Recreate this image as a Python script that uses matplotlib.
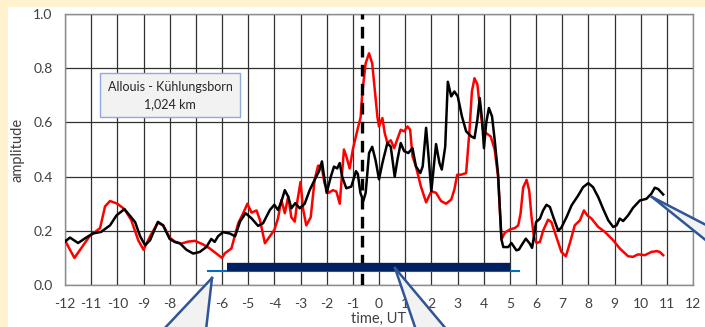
import matplotlib
matplotlib.use("Agg")
import matplotlib.pyplot as plt
from matplotlib.patches import Rectangle, Polygon

# time axis (UT) and amplitudes
red_t = [-12.0, -11.81, -11.64, -11.06, -10.79, -10.66, -10.47, -10.28, -10.0, -9.73,
         -9.47, -9.2, -9.0, -8.75, -8.45, -8.25, -8.0, -7.8, -7.55, -7.3,
         -7.04, -6.73, -6.47, -6.2, -6.0, -5.89, -5.64, -5.38, -5.19, -5.03,
         -4.87, -4.68, -4.55, -4.36, -4.17, -4.0, -3.86, -3.73, -3.6, -3.47,
         -3.35, -3.22, -3.12, -3.0, -2.9, -2.78, -2.61, -2.46, -2.33, -2.2,
         -2.08, -1.93, -1.76, -1.63, -1.5, -1.44, -1.34, -1.25, -1.12, -1.0,
         -0.83, -0.7, -0.64, -0.51, -0.38, -0.26, -0.17, -0.06, 0.0, 0.13,
         0.22, 0.32, 0.45, 0.58, 0.71, 0.83, 0.96, 1.09, 1.19, 1.28,
         1.41, 1.6, 1.8, 2.0, 2.18, 2.37, 2.56, 2.76, 2.88, 2.99,
         3.14, 3.33, 3.46, 3.55, 3.65, 3.76, 3.85, 3.97, 4.1, 4.27,
         4.42, 4.55, 4.68, 4.81, 5.0, 5.19, 5.32, 5.41, 5.51, 5.64,
         5.74, 5.83, 5.92, 6.02, 6.15, 6.27, 6.46, 6.59, 6.78, 6.97,
         7.14, 7.29, 7.48, 7.68, 7.83, 7.96, 8.12, 8.38, 8.63, 8.95,
         9.2, 9.52, 9.71, 9.9, 10.16, 10.41, 10.61, 10.73, 10.86]
red_amp = [0.165, 0.13, 0.10, 0.18, 0.20, 0.21, 0.29, 0.31, 0.30, 0.28,
           0.24, 0.165, 0.13, 0.18, 0.23, 0.22, 0.175, 0.16, 0.153, 0.16,
           0.163, 0.15, 0.135, 0.115, 0.10, 0.117, 0.135, 0.228, 0.265, 0.30,
           0.267, 0.275, 0.24, 0.154, 0.18, 0.203, 0.246, 0.314, 0.265, 0.326,
           0.25, 0.234, 0.31, 0.38, 0.28, 0.22, 0.25, 0.388, 0.44, 0.44,
           0.375, 0.34, 0.35, 0.345, 0.30, 0.375, 0.50, 0.475, 0.43, 0.50,
           0.57, 0.62, 0.708, 0.818, 0.855, 0.818, 0.73, 0.62, 0.585, 0.616,
           0.56, 0.524, 0.534, 0.505, 0.54, 0.573, 0.567, 0.585, 0.573, 0.475,
           0.438, 0.364, 0.305, 0.346, 0.34, 0.31, 0.30, 0.315, 0.352, 0.407,
           0.407, 0.413, 0.573, 0.714, 0.763, 0.74, 0.659, 0.573, 0.56, 0.548,
           0.50, 0.40, 0.168, 0.193, 0.205, 0.21, 0.22, 0.263, 0.36, 0.388,
           0.349, 0.25, 0.177, 0.155, 0.159, 0.20, 0.241, 0.232, 0.177, 0.122,
           0.106, 0.153, 0.22, 0.239, 0.275, 0.257, 0.245, 0.214, 0.196, 0.165,
           0.135, 0.106, 0.104, 0.113, 0.11, 0.122, 0.125, 0.122, 0.11]

black_t = [-12.0, -11.81, -11.5, -11.19, -10.94, -10.62, -10.28, -10.03, -9.73, -9.53,
           -9.32, -9.13, -8.94, -8.75, -8.45, -8.25, -8.0, -7.81, -7.6, -7.36,
           -7.1, -6.85, -6.6, -6.41, -6.28, -6.15, -5.96, -5.7, -5.5, -5.31,
           -5.1, -4.87, -4.62, -4.43, -4.17, -4.0, -3.86, -3.73, -3.6, -3.47,
           -3.35, -3.2, -3.03, -2.84, -2.65, -2.46, -2.29, -2.18, -2.08, -2.0,
           -1.84, -1.72, -1.6, -1.5, -1.41, -1.25, -1.06, -0.88, -0.81, -0.71,
           -0.6, -0.51, -0.38, -0.26, -0.13, 0.0, 0.13, 0.32, 0.45, 0.6,
           0.71, 0.83, 0.96, 1.12, 1.28, 1.41, 1.58, 1.67, 1.8, 1.88,
           2.0, 2.12, 2.18, 2.31, 2.4, 2.53, 2.63, 2.76, 2.88, 3.01,
           3.17, 3.33, 3.53, 3.65, 3.76, 3.85, 3.94, 4.01, 4.1, 4.2,
           4.32, 4.42, 4.55, 4.68, 4.75, 4.83, 4.94, 5.06, 5.25, 5.35,
           5.45, 5.61, 5.76, 5.85, 5.93, 6.0, 6.15, 6.27, 6.4, 6.53,
           6.66, 6.85, 6.97, 7.17, 7.36, 7.61, 7.8, 8.0, 8.18, 8.38,
           8.57, 8.76, 8.95, 9.08, 9.2, 9.33, 9.52, 9.71, 9.97, 10.22,
           10.41, 10.54, 10.67, 10.86]
black_amp = [0.16, 0.175, 0.155, 0.175, 0.19, 0.196, 0.22, 0.257, 0.28, 0.257,
             0.232, 0.18, 0.147, 0.165, 0.233, 0.22, 0.17, 0.159, 0.153, 0.13,
             0.116, 0.122, 0.14, 0.17, 0.159, 0.18, 0.195, 0.19, 0.18, 0.234,
             0.265, 0.246, 0.218, 0.228, 0.277, 0.296, 0.277, 0.308, 0.35, 0.326,
             0.283, 0.302, 0.283, 0.30, 0.35, 0.388, 0.42, 0.456, 0.388, 0.34,
             0.40, 0.437, 0.43, 0.45, 0.40, 0.357, 0.363, 0.42, 0.41, 0.34,
             0.31, 0.34, 0.487, 0.51, 0.46, 0.39, 0.45, 0.524, 0.51, 0.40,
             0.465, 0.524, 0.494, 0.487, 0.505, 0.438, 0.413, 0.438, 0.58, 0.49,
             0.346, 0.46, 0.52, 0.45, 0.426, 0.51, 0.75, 0.696, 0.714, 0.696,
             0.622, 0.567, 0.548, 0.542, 0.61, 0.69, 0.61, 0.505, 0.60, 0.653,
             0.622, 0.536, 0.41, 0.168, 0.14, 0.14, 0.14, 0.155, 0.128, 0.131,
             0.147, 0.171, 0.153, 0.137, 0.183, 0.232, 0.245, 0.275, 0.296, 0.288,
             0.251, 0.20, 0.212, 0.251, 0.294, 0.33, 0.361, 0.376, 0.361, 0.324,
             0.28, 0.239, 0.214, 0.22, 0.245, 0.236, 0.257, 0.285, 0.312, 0.318,
             0.337, 0.359, 0.354, 0.334]

event_t = -0.65
bar_thin = [-6.55, 5.35]
bar_thick = [-5.8, 5.0]
x_ticks = list(range(-12, 13))
y_ticks = [0.0, 0.2, 0.4, 0.6, 0.8, 1.0]

W, H = 705, 327
fig = plt.figure(figsize=(W / 100, H / 100), dpi=100, facecolor="#FFF2CC")
plt.rcParams["font.family"] = ["Lato", "DejaVu Sans"]

# white chart area inside the yellow slide margin
fig.add_artist(Rectangle((8 / W, 0), 1, 1 - 7 / H, transform=fig.transFigure,
                         facecolor="white", edgecolor="none", zorder=0))

ax = fig.add_axes([65 / W, 1 - 285 / H, 628 / W, 271 / H])
ax.set_facecolor("white")
ax.set_xlim(-12, 12)
ax.set_ylim(0, 1.0)
ax.set_xticks(x_ticks)
ax.set_yticks(y_ticks)
ax.set_xticklabels([str(v) for v in x_ticks])
ax.set_yticklabels([f"{v:.1f}" for v in y_ticks])
ax.tick_params(length=0, labelsize=10, labelcolor="#404040", pad=9)
ax.grid(True, color="#303030", linewidth=0.9)
ax.set_axisbelow(True)
for s in ax.spines.values():
    s.set_color("#8c8c8c")
    s.set_linewidth(1.0)

ax.set_xlabel("time, UT", fontsize=10.5, color="#404040", labelpad=2)
ax.set_ylabel("amplitude", fontsize=10.5, color="#404040", labelpad=6)

ax.plot(red_t, red_amp, color="#FF0000", linewidth=1.8, zorder=3,
        solid_joinstyle="round")
ax.plot(black_t, black_amp, color="black", linewidth=1.8, zorder=4,
        solid_joinstyle="round")

ax.plot([event_t, event_t], [0, 1.0], color="black", linewidth=2.4,
        linestyle=(0, (3.5, 2.2)), zorder=5)

ax.plot(bar_thin, [0.052, 0.052], color="#0070C0", linewidth=1.5, zorder=5)
ax.plot(bar_thick, [0.065, 0.065], color="#002060", linewidth=6, zorder=6,
        solid_capstyle="butt")

# label box
ax.add_patch(Rectangle((-10.66, 0.62), 5.35, 0.162, facecolor="#F2F2F2",
                       edgecolor="#8FAADC", linewidth=1.0, zorder=6))
ax.text(-7.98, 0.70, "Allouis - Kühlungsborn\n1,024 km", ha="center", va="center",
        fontsize=9, color="#262626", linespacing=1.5, zorder=7)


# callout tails running off the picture
def callout(tip, a, b):
    pts = [(x / W, 1 - y / H) for x, y in (tip, a, b)]
    fig.add_artist(Polygon(pts, closed=True, transform=fig.transFigure,
                           facecolor="#F2F2F2", edgecolor="none", zorder=8))
    for p in (pts[1], pts[2]):
        fig.add_artist(plt.Line2D([pts[0][0], p[0]], [pts[0][1], p[1]],
                                  transform=fig.transFigure, color="#2F5597",
                                  linewidth=1.8, zorder=9))


callout((212, 278), (163, 330), (206, 330))
callout((395, 268), (416, 330), (447, 330))
callout((652, 197), (708, 226), (708, 242))

fig.savefig("out.png", dpi=100, facecolor=fig.get_facecolor())
